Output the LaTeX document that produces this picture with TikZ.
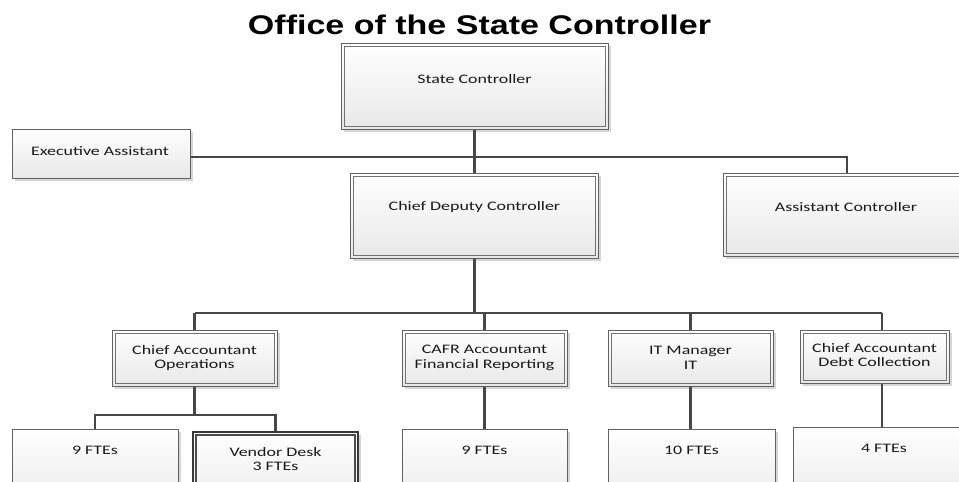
\documentclass[tikz,border=0pt]{standalone}
\usepackage{fontspec}
\setmainfont{Carlito}[FakeStretch=1.38]
\newfontfamily\titlefont{Liberation Sans}[FakeStretch=1.26]
\usetikzlibrary{shadows}
\begin{document}
\begin{tikzpicture}[x=1pt,y=-1pt,
  box/.style={inner sep=0pt, top color=white, bottom color=black!9,
    drop shadow={shadow xshift=2.5pt, shadow yshift=-2.5pt, fill=black!16, opacity=1}},
  sbox/.style={box, draw=black!62, line width=1pt},
  inner/.style={path picture={\draw[#1]
      ([shift={(3pt,-3pt)}]path picture bounding box.north west) rectangle
      ([shift={(-3pt,3pt)}]path picture bounding box.south east);}},
  dbox/.style={box, draw=black!62, line width=1pt, inner={draw=black!55, line width=1pt}},
  vbox/.style={box, draw=black!78, line width=2.2pt, inner={draw=black!70, line width=2pt}},
  txt/.style={font=\fontsize{13}{14.5}\selectfont, text=black!90, align=center, inner sep=0pt},
  conn/.style={draw=black!72, line width=2.2pt}]
\useasboundingbox (0,0) rectangle (959,482);
\clip (0,0) rectangle (959,482);

\node[font=\titlefont\bfseries\fontsize{27}{30}\selectfont, anchor=base, inner sep=0pt] (title) at (479.5,34) {Office of the State Controller};

% boxes
\node[dbox, minimum width=267pt, minimum height=86pt] (sc) at (474.5,86) {};
\node[sbox, minimum width=178pt, minimum height=49pt] (ea) at (101,153.5) {};
\node[dbox, minimum width=248pt, minimum height=85pt] (cdc) at (474.5,215.5) {};
\node[dbox, minimum width=248pt, minimum height=83pt] (ac) at (847,214.5) {};
\node[dbox, minimum width=165pt, minimum height=56pt] (ops) at (194.5,358) {};
\node[dbox, minimum width=165pt, minimum height=56pt] (cafr) at (484.5,358) {};
\node[dbox, minimum width=165pt, minimum height=56pt] (it) at (690.5,358) {};
\node[dbox, minimum width=149pt, minimum height=53pt] (debt) at (874.5,356.5) {};
\node[sbox, minimum width=166pt, minimum height=85pt] (f1) at (95,471.5) {};
\node[vbox, minimum width=165pt, minimum height=85pt] (vd) at (275.5,474.5) {};
\node[sbox, minimum width=165pt, minimum height=85pt] (f2) at (484.5,471.5) {};
\node[sbox, minimum width=167pt, minimum height=85pt] (f3) at (691.5,471.5) {};
\node[sbox, minimum width=182pt, minimum height=85pt] (f4) at (884,469.5) {};

% texts
\node[txt] (sct) at (474.5,79) {State Controller};
\node[txt] (eat) at (100,151) {Executive Assistant};
\node[txt] (cdct) at (474.5,207) {Chief Deputy Controller};
\node[txt] (act) at (846,207) {Assistant Controller};
\node[txt] (opst) at (194.5,358) {Chief Accountant\\Operations};
\node[txt] (cafrt) at (484.5,358) {CAFR Accountant\\Financial Reporting};
\node[txt] (itt) at (690.5,358) {IT Manager\\IT};
\node[txt] (debtt) at (874.5,355) {Chief Accountant\\Debt Collection};
\node[txt] (f1t) at (95,450.5) {9 FTEs};
\node[txt] (vdt) at (275.5,459) {Vendor Desk\\3 FTEs};
\node[txt] (f2t) at (484.5,450.5) {9 FTEs};
\node[txt] (f3t) at (691.5,450.5) {10 FTEs};
\node[txt] (f4t) at (884,448) {4 FTEs};

% connectors
\coordinate (b1) at (474.5,157);
\coordinate (b2) at (474.5,313);
\coordinate (dx) at (882,313);
\coordinate (b3) at (194.5,415);
\draw[conn] (sc.south) -- (b1);
\draw[conn] (ea.east |- b1) -- (b1 -| ac.north) -- (ac.north);
\draw[conn] (b1) -- (cdc.north);
\draw[conn] (cdc.south) -- (b2);
\draw[conn] (b2 -| ops.north) -- (dx);
\draw[conn] (b2 -| ops.north) -- (ops.north);
\draw[conn] (b2 -| cafr.north) -- (cafr.north);
\draw[conn] (b2 -| it.north) -- (it.north);
\draw[conn] (dx) -- (dx |- debt.north);
\draw[conn] (ops.south) -- (b3);
\draw[conn] (f1.north) -- (f1.north |- b3) -- (b3 -| vd.north) -- (vd.north);
\draw[conn] (cafr.south) -- (f2.north);
\draw[conn] (it.south) -- (it.south |- f3.north);
\draw[conn] (dx |- debt.south) -- (dx |- f4.north);
\end{tikzpicture}
\end{document}
